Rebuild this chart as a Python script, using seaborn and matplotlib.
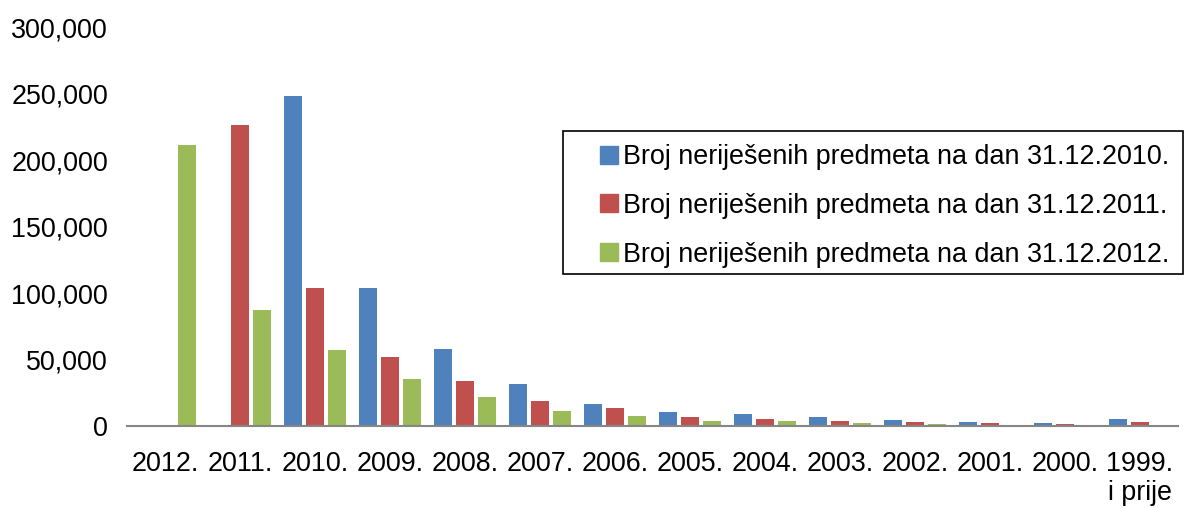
import numpy as np
import pandas as pd
import matplotlib
matplotlib.use("Agg")
import matplotlib.pyplot as plt
import seaborn as sns
from matplotlib.ticker import FuncFormatter

godine = ["2012.", "2011.", "2010.", "2009.", "2008.", "2007.", "2006.",
          "2005.", "2004.", "2003.", "2002.", "2001.", "2000.", "1999.\ni prije"]
stanje_2010 = [np.nan, np.nan, 248000, 104000, 58000, 31500, 16500,
               10500, 9000, 6700, 4500, 3000, 2300, 5300]
stanje_2011 = [np.nan, 226500, 103500, 51800, 33800, 18800, 13500,
               7000, 5300, 3800, 3000, 2300, 1500, 3000]
stanje_2012 = [211500, 87000, 57000, 35300, 21800, 11300, 7700,
               3800, 3800, 2300, 1500, 1100, 1000, 1000]
serije = ["Broj neriješenih predmeta na dan 31.12.2010.",
          "Broj neriješenih predmeta na dan 31.12.2011.",
          "Broj neriješenih predmeta na dan 31.12.2012."]
boje = ["#4F81BD", "#C0504D", "#9BBB59"]

df = pd.concat([
    pd.DataFrame({"godina": godine, "broj": vals, "serija": s})
    for s, vals in zip(serije, [stanje_2010, stanje_2011, stanje_2012])
], ignore_index=True)

sns.set_style("white")
plt.rcParams['font.family'] = ['Liberation Sans', 'DejaVu Sans']
plt.rcParams['text.color'] = 'black'

fig = plt.figure(figsize=(11.87, 5.08), dpi=100)
ax = fig.add_axes([0.1074, 0.1614, 0.8846, 0.7854])

sns.barplot(data=df, x="godina", y="broj", hue="serija", order=godine,
            hue_order=serije, palette=boje, saturation=1, width=0.88,
            gap=0.18, errorbar=None, ax=ax, legend=False, linewidth=0)

ax.set_ylim(0, 300000)
ax.set_xlim(-0.5, len(godine) - 0.5)
ax.set_yticks(np.arange(0, 300001, 50000))
ax.yaxis.set_major_formatter(FuncFormatter(lambda v, p: f"{int(v):,}"))
ax.set_xticks(range(len(godine)), labels=godine)
ax.set_xlabel(""); ax.set_ylabel("")
for s in ["top", "right", "left"]:
    ax.spines[s].set_visible(False)
ax.spines["bottom"].set_color("#868686")
ax.spines["bottom"].set_linewidth(1.5)
ax.tick_params(axis="y", length=0, pad=14, labelsize=19.4, labelcolor="black")
ax.tick_params(axis="x", length=0, pad=18, labelsize=19.4, labelcolor="black")
for lbl in ax.get_xticklabels():
    lbl.set_linespacing(1.15)

# legend box drawn separately (Excel-style wide left padding)
fig.patches.append(plt.Rectangle((563 / 1187, (508 - 274) / 508), 620 / 1187, 143 / 508,
                                 transform=fig.transFigure, fill=False,
                                 edgecolor="black", linewidth=1.2))
handles = [plt.Rectangle((0, 0), 1, 1, color=c) for c in boje]
leg = fig.legend(handles, serije, loc="upper left",
                 bbox_to_anchor=(600 / 1187, (508 - 144) / 508),
                 fontsize=19.4, frameon=False, borderaxespad=0, borderpad=0,
                 handlelength=0.65, handleheight=0.65, handletextpad=0.2,
                 labelspacing=0.85)

fig.savefig("out.png", dpi=100)
